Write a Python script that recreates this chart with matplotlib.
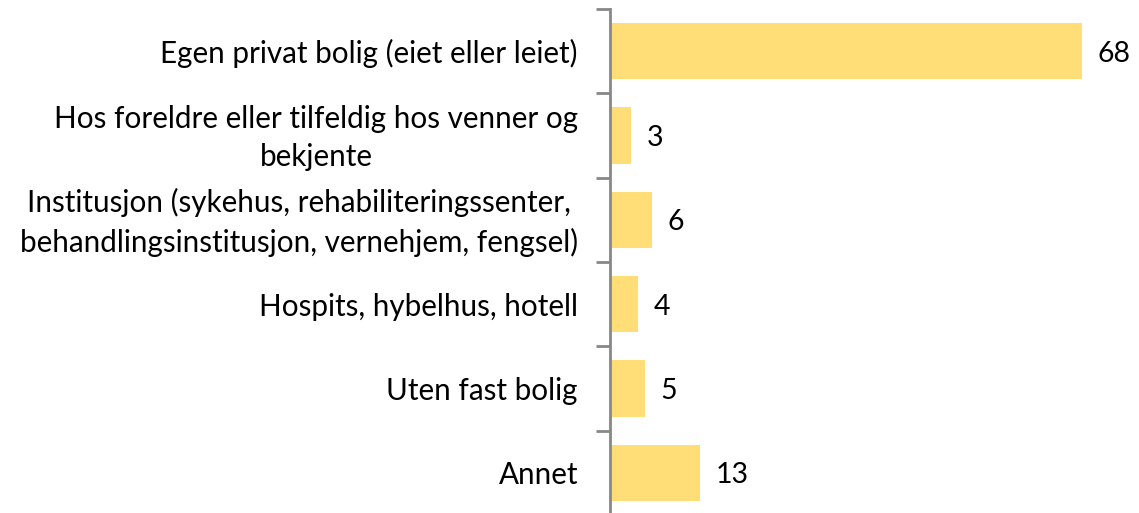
import matplotlib.pyplot as plt

categories = [
    'Egen privat bolig (eiet eller leiet)',
    'Hos foreldre eller tilfeldig hos venner og\nbekjente',
    'Institusjon (sykehus, rehabiliteringssenter,\nbehandlingsinstitusjon, vernehjem, fengsel)',
    'Hospits, hybelhus, hotell',
    'Uten fast bolig',
    'Annet',
]
values = [68, 3, 6, 4, 5, 13]

W, H = 1139, 513
fig = plt.figure(figsize=(W / 100, H / 100), dpi=100)
ax = fig.add_axes([610 / W, -2 / H, 1 - 610 / W, 506 / H])

n = len(values)
pos = list(range(n))[::-1]
ax.barh(pos, values, height=0.67, color='#ffdd77', zorder=2)
ax.set_ylim(-0.5, n - 0.5)
ax.set_xlim(0, 529 / 6.94)

for p, v in zip(pos, values):
    ax.text(v + 2.3, p - 0.03, str(v), va='center', ha='left', fontsize=20.5,
            family='Lato')

for p, lab in zip(pos, categories):
    ax.text(-32 / 6.94, p - 0.03, lab, va='center', ha='right', multialignment='center',
            fontsize=21.3, family='Lato', linespacing=1.45)

ax.set_yticks([i - 0.5 for i in range(n + 1)])
ax.set_yticklabels([])
ax.tick_params(axis='y', length=10, width=2, color='#888888', direction='out')
ax.set_xticks([])
for s in ['top', 'right', 'bottom']:
    ax.spines[s].set_visible(False)
ax.spines['left'].set_color('#888888')
ax.spines['left'].set_linewidth(2)

fig.savefig('out.png', dpi=100)
